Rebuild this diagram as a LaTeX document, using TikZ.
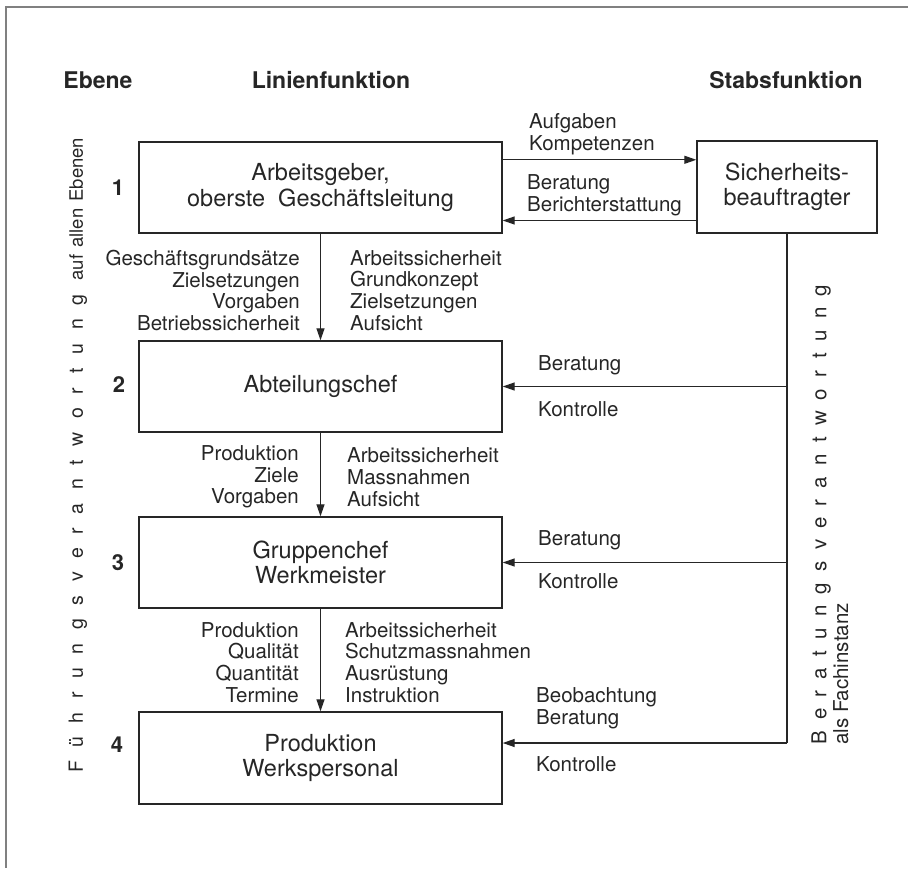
\documentclass[tikz,border=0pt]{standalone}
\usepackage{fontspec}
\setmainfont{TeX Gyre Heros}
\usepackage{tikz}
\usetikzlibrary{arrows.meta,calc}
\definecolor{linie}{HTML}{262626}
\definecolor{rahmen}{HTML}{808080}
\newcommand{\gesperrt}[2][55]{{\addfontfeature{LetterSpace=#1}#2}}

\begin{document}
\begin{tikzpicture}[x=1pt,y=-1pt,
    every node/.style={text=linie},
    kasten/.style={draw=linie,line width=1.4pt,minimum width=363pt,minimum height=91pt,align=center,inner sep=2pt,font=\fontsize{23.5}{25.5}\selectfont},
    pfeil/.style={draw=linie,line width=1.3pt,-{Triangle[length=12pt,width=8pt]}},
    strich/.style={draw=linie,line width=1.3pt},
    etikett/.style={inner sep=0pt,font=\fontsize{20.5}{21.7}\selectfont},
    kopf/.style={inner sep=0pt,font=\fontsize{23}{25}\selectfont\bfseries},
    nummer/.style={inner sep=0pt,font=\fontsize{22}{24}\selectfont\bfseries}]
        \useasboundingbox (0,0) rectangle (908,868);
        \draw[rahmen,line width=1.5pt] (908,7) -- (6,7) -- (6,868);
        \node[kopf] (kebene) at (98,80) {Ebene};
        \node[kopf] (klinie) at (331,80) {Linienfunktion};
        \node[kopf] (kstab) at (786,80) {Stabsfunktion};
        \node[kasten] (geber) at (320.5,187.5) {Arbeitsgeber,\\oberste\ \ Geschäftsleitung};
        \node[kasten] (abteilung) at (320.5,386.5) {Abteilungschef};
        \node[kasten] (gruppe) at (320.5,562.5) {Gruppenchef\\Werkmeister};
        \node[kasten,minimum height=92pt] (personal) at (320.5,758) {Produktion\\Werkspersonal};
        \node[kasten,minimum width=180pt,minimum height=92pt] (sibe) at (787,187) {Sicherheits-\\beauftragter};
        \node[nummer] (n1) at (118,188) {1};
        \node[nummer] (n2) at (119,385) {2};
        \node[nummer] (n3) at (118,563) {3};
        \node[nummer] (n4) at (117,745) {4};
        \draw[pfeil] (geber) -- (abteilung);
        \draw[pfeil] (abteilung) -- (gruppe);
        \draw[pfeil] (gruppe) -- (personal);
        \coordinate (auftrag) at ($(geber.north east)!0.2!(geber.south east)$);
        \coordinate (bericht) at ($(geber.north east)!0.857!(geber.south east)$);
        \draw[pfeil] (auftrag) -- (auftrag -| sibe.west);
        \draw[pfeil] (bericht -| sibe.west) -- (bericht);
        \coordinate (ecke) at (sibe.south |- 0,743);
        \draw[strich] (sibe.south) -- (ecke);
        \draw[pfeil] (sibe.south |- abteilung.east) -- (abteilung.east);
        \draw[pfeil] (sibe.south |- gruppe.east) -- (gruppe.east);
        \draw[pfeil] (ecke) -- (ecke -| personal.east);
        \node[etikett,anchor=west,align=left] (aufgaben) at (529,134) {Aufgaben\\Kompetenzen};
        \node[etikett,anchor=west,align=left] (rueck) at (527,195.5) {Beratung\\Berichterstattung};
        \node[etikett,anchor=east,align=right] (links1) at (300,290.5) {Geschäftsgrundsätze\\Zielsetzungen\\Vorgaben\\Betriebssicherheit};
        \node[etikett,anchor=west,align=left] (rechts1) at (350,290.5) {Arbeitssicherheit\\Grundkonzept\\Zielsetzungen\\Aufsicht};
        \node[etikett,anchor=east,align=right] (links2) at (299,477) {Produktion\\Ziele\\Vorgaben};
        \node[etikett,anchor=west,align=left] (rechts2) at (347,477) {Arbeitssicherheit\\Massnahmen\\Aufsicht};
        \node[etikett,anchor=east,align=right] (links3) at (299,662.5) {Produktion\\Qualität\\Quantität\\Termine};
        \node[etikett,anchor=west,align=left] (rechts3) at (345,662.5) {Arbeitssicherheit\\Schutzmassnahmen\\Ausrüstung\\Instruktion};
        \node[etikett,anchor=west] (berat2) at (538,365) {Beratung};
        \node[etikett,anchor=west] (kontr2) at (538,409) {Kontrolle};
        \node[etikett,anchor=west] (berat3) at (538,540) {Beratung};
        \node[etikett,anchor=west] (kontr3) at (538,581) {Kontrolle};
        \node[etikett,anchor=west,align=left] (berat4) at (536,708.5) {Beobachtung\\Beratung};
        \node[etikett,anchor=west] (kontr4) at (536,764) {Kontrolle};
        \node[etikett,rotate=90,anchor=west] (fuehrung) at (78,773) {{\fontsize{19.5}{21}\selectfont\gesperrt[70]{Führungsverantwortung}}\hspace{14pt}{\fontsize{18.5}{21}\selectfont auf\hspace{7pt}allen\hspace{7pt}Ebenen}};
        \node[etikett,rotate=90,anchor=west,align=left] (fach) at (830,745) {\gesperrt{Beratungsverantwortung}\\als Fachinstanz};
      \end{tikzpicture}
\end{document}
